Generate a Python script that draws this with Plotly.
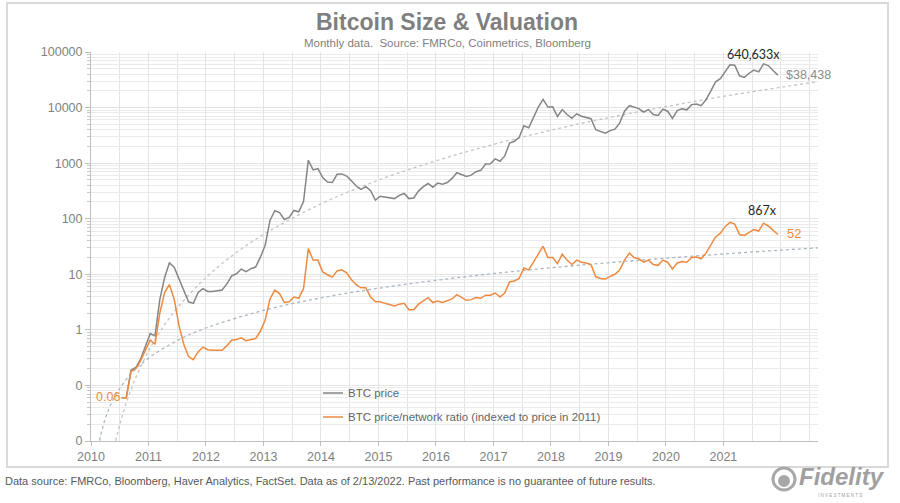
import plotly.graph_objects as go
import pandas as pd

# ---------------- data ----------------
months = pd.period_range("2010-08", "2022-01", freq="M")  # month-end observations

btc_price = [
    0.06, 0.06, 0.19, 0.21, 0.30,
    0.52, 0.86, 0.78, 3.5, 8.7, 16.1, 13.4, 8.2, 5.1, 3.2, 3.0, 4.7,
    5.5, 4.9, 4.9, 5.0, 5.2, 6.7, 9.4, 10.2, 12.4, 11.2, 12.6, 13.5,
    20.4, 33.4, 93, 139, 129, 97, 106, 141, 133, 204, 1129, 757,
    800, 550, 457, 448, 630, 640, 585, 480, 387, 338, 378, 320,
    217, 254, 244, 236, 230, 263, 285, 230, 236, 314, 378, 430,
    369, 437, 416, 448, 531, 673, 624, 575, 609, 700, 742, 964,
    970, 1190, 1080, 1350, 2300, 2480, 2880, 4700, 4340, 6470, 10200, 14000,
    10200, 10300, 6900, 9200, 7500, 6400, 7730, 7000, 6600, 6300, 4000, 3700,
    3450, 3850, 4100, 5300, 8600, 10800, 10100, 9600, 8300, 9200, 7500, 7200,
    9350, 8600, 6400, 8800, 9500, 9100, 11300, 11600, 10800, 13800, 19700, 29000,
    33100, 45200, 58800, 57700, 37300, 35000, 41500, 47100, 43800, 61300, 57000, 46300,
    38438,
]

btc_ratio = [
    0.06, 0.06, 0.18, 0.20, 0.28,
    0.42, 0.66, 0.55, 2.0, 4.7, 6.5, 3.6, 1.2, 0.55, 0.33, 0.29, 0.40,
    0.49, 0.44, 0.43, 0.43, 0.43, 0.52, 0.65, 0.67, 0.72, 0.64, 0.67, 0.70,
    0.95, 1.5, 3.6, 5.2, 4.5, 3.1, 3.2, 3.9, 3.7, 5.5, 29, 18,
    18, 11, 9.8, 8.9, 11.5, 12, 10.6, 8.0, 6.5, 5.7, 5.7, 3.9,
    3.2, 3.2, 3.0, 2.8, 2.7, 2.9, 3.0, 2.3, 2.3, 2.9, 3.3, 3.8,
    3.1, 3.3, 3.1, 3.3, 3.6, 4.3, 3.8, 3.4, 3.5, 3.8, 3.7, 4.2,
    4.2, 4.6, 3.9, 4.6, 7.3, 7.6, 8.4, 13, 12, 17, 23, 32,
    20, 20, 15.5, 23, 18, 15, 18, 16.5, 16, 15, 9.0, 8.4,
    8.2, 9.2, 10, 12, 18, 24, 20, 19, 16.5, 18, 15, 14.5,
    18, 16.5, 12.5, 16, 17, 16.5, 20, 20.5, 19, 24, 34, 47,
    55, 72, 86, 80, 52, 50, 57, 64, 60, 83, 74, 62,
    52,
]

# power-law trend lines
price_trend_t = [2010.43, 2010.5, 2010.6, 2010.75, 2011.0, 2011.25, 2011.5, 2012, 2012.5, 2013,
                 2014, 2015, 2016, 2017, 2018, 2019, 2020, 2021, 2022, 2022.65]
price_trend_v = [0.0101, 0.0197, 0.0439, 0.117, 0.415, 1.11, 2.47, 8.75, 23.4, 52,
                 185, 494, 1100, 2170, 3910, 6570, 10400, 15900, 23200, 29300]
ratio_trend_t = [2010.15, 2010.2, 2010.3, 2010.5, 2010.75, 2011, 2011.5, 2012, 2013, 2014,
                 2015, 2016, 2017, 2018, 2019, 2020, 2021, 2022, 2022.65]
ratio_trend_v = [0.0102, 0.0171, 0.0355, 0.0889, 0.1845, 0.31, 0.643, 1.08, 2.24, 3.76,
                 5.61, 7.79, 10.3, 13.1, 16.1, 19.5, 23.2, 27.2, 29.9]

year_ticks = list(range(2010, 2022))
y_tickvals = [0.01, 0.1, 1, 10, 100, 1000, 10000, 100000]
y_ticktext = ["0", "0", "1", "10", "100", "1000", "10000", "100000"]

# ---------------- styling ----------------
GRAY = "#858585"
ORANGE = "#EE8A40"
FONT = "Liberation Sans, Arial, sans-serif"
W, H = 900, 503
L, R, T, B = 91, 818, 52, 441


def px(x):
    return (x - L) / (R - L)


def py(y):
    return (B - y) / (B - T)


shift = -0.64  # plotting offset in months used by the original chart
xs = [p.year + (p.month - 1 + shift) / 12 for p in months]

fig = go.Figure()
fig.add_trace(go.Scatter(x=price_trend_t, y=price_trend_v, mode="lines", line_shape="spline",
                         line=dict(color="#c4c4c4", width=1.3, dash="dot"), hoverinfo="skip"))
fig.add_trace(go.Scatter(x=ratio_trend_t, y=ratio_trend_v, mode="lines", line_shape="spline",
                         line=dict(color="#aab6c4", width=1.3, dash="dot"), hoverinfo="skip"))
fig.add_trace(go.Scatter(x=xs, y=btc_price, mode="lines", name="BTC price",
                         line=dict(color=GRAY, width=1.5)))
fig.add_trace(go.Scatter(x=xs, y=btc_ratio, mode="lines",
                         name="BTC price/network ratio (indexed to price in 2011)",
                         line=dict(color=ORANGE, width=1.5)))

grid = "#e4e4e4"
fig.update_layout(
    width=W, height=H, autosize=False,
    margin=dict(l=L, r=W - R, t=T, b=H - B, pad=0),
    paper_bgcolor="white", plot_bgcolor="white",
    showlegend=False,
    font=dict(family=FONT, color="#7f7f7f"),
    xaxis=dict(range=[2010, 2022.645], tickmode="array", tickvals=year_ticks,
               ticktext=[str(y) for y in year_ticks], showgrid=True, gridcolor=grid, gridwidth=1,
               minor=dict(tick0=2010, dtick=0.5, showgrid=True, gridcolor=grid),
               showline=True, linecolor="#bfbfbf", linewidth=1, ticks="outside", ticklen=4,
               tickcolor="#bfbfbf", tickfont=dict(size=12.5, color="#7f7f7f"), zeroline=False),
    yaxis=dict(type="log", range=[-2, 5], tickmode="array", tickvals=y_tickvals, ticktext=y_ticktext,
               showgrid=True, gridcolor=grid, gridwidth=1,
               minor=dict(dtick="D1", showgrid=True, gridcolor="#ebebeb", ticks="outside",
                          ticklen=3, tickcolor="#c8c8c8"),
               showline=True, linecolor="#bfbfbf", linewidth=1, ticks="outside", ticklen=5,
               tickcolor="#bfbfbf", tickfont=dict(size=12.5, color="#7f7f7f"), zeroline=False),
)

ann = []


def text(x, y, s, size, color, xanchor="center", family=FONT):
    ann.append(dict(x=px(x), y=py(y), xref="paper", yref="paper", text=s, showarrow=False,
                    xanchor=xanchor, yanchor="middle", font=dict(size=size, color=color, family=family)))


text(447, 22, "<b>Bitcoin Size &amp; Valuation</b>", 23, "#7f7f7f")
text(447, 43, "Monthly data.  Source: FMRCo, Coinmetrics, Bloomberg", 11.5, "#7f7f7f")
text(753, 55, "640,633x", 12.5, "#262626", family="Lato, sans-serif")
text(784, 75, "$38,438", 12.5, "#8c8c8c", xanchor="left")
text(762, 210, "867x", 12.5, "#262626", family="Lato, sans-serif")
text(785, 234, "52", 13, ORANGE, xanchor="left")
text(94, 397, "0.06", 12.5, ORANGE, xanchor="left")
text(346, 393, "BTC price", 11.5, "#666666", xanchor="left")
text(346, 417, "BTC price/network ratio (indexed to price in 2011)", 11.5, "#666666", xanchor="left")
text(3, 481, "Data source: FMRCo, Bloomberg, Haver Analytics, FactSet. Data as of 2/13/2022. "
     "Past performance is no guarantee of future results.", 11, "#595959", xanchor="left")
text(797, 476, "<b><i>Fidelity</i></b>", 24, "#a0a0a0", xanchor="left")
text(840, 495, "I N V E S T M E N T S", 4.5, "#a0a0a0")
fig.update_layout(annotations=ann)

shapes = [
    dict(type="rect", xref="paper", yref="paper", x0=px(7), x1=px(888), y0=py(467), y1=py(3),
         line=dict(color="#d9d9d9", width=2), layer="below"),
    dict(type="line", xref="paper", yref="paper", x0=px(323), x1=px(343), y0=py(393), y1=py(393),
         line=dict(color=GRAY, width=1.5)),
    dict(type="line", xref="paper", yref="paper", x0=px(323), x1=px(343), y0=py(417), y1=py(417),
         line=dict(color=ORANGE, width=1.5)),
    dict(type="circle", xref="paper", yref="paper", x0=px(773), x1=px(795), y0=py(490), y1=py(468),
         line=dict(color="#a8a8a8", width=3), fillcolor="white"),
    dict(type="circle", xref="paper", yref="paper", x0=px(779), x1=px(789), y0=py(486), y1=py(476),
         line=dict(color="#a8a8a8", width=2), fillcolor="#a8a8a8"),
]
fig.update_layout(shapes=shapes)

fig.write_html("out.html")
